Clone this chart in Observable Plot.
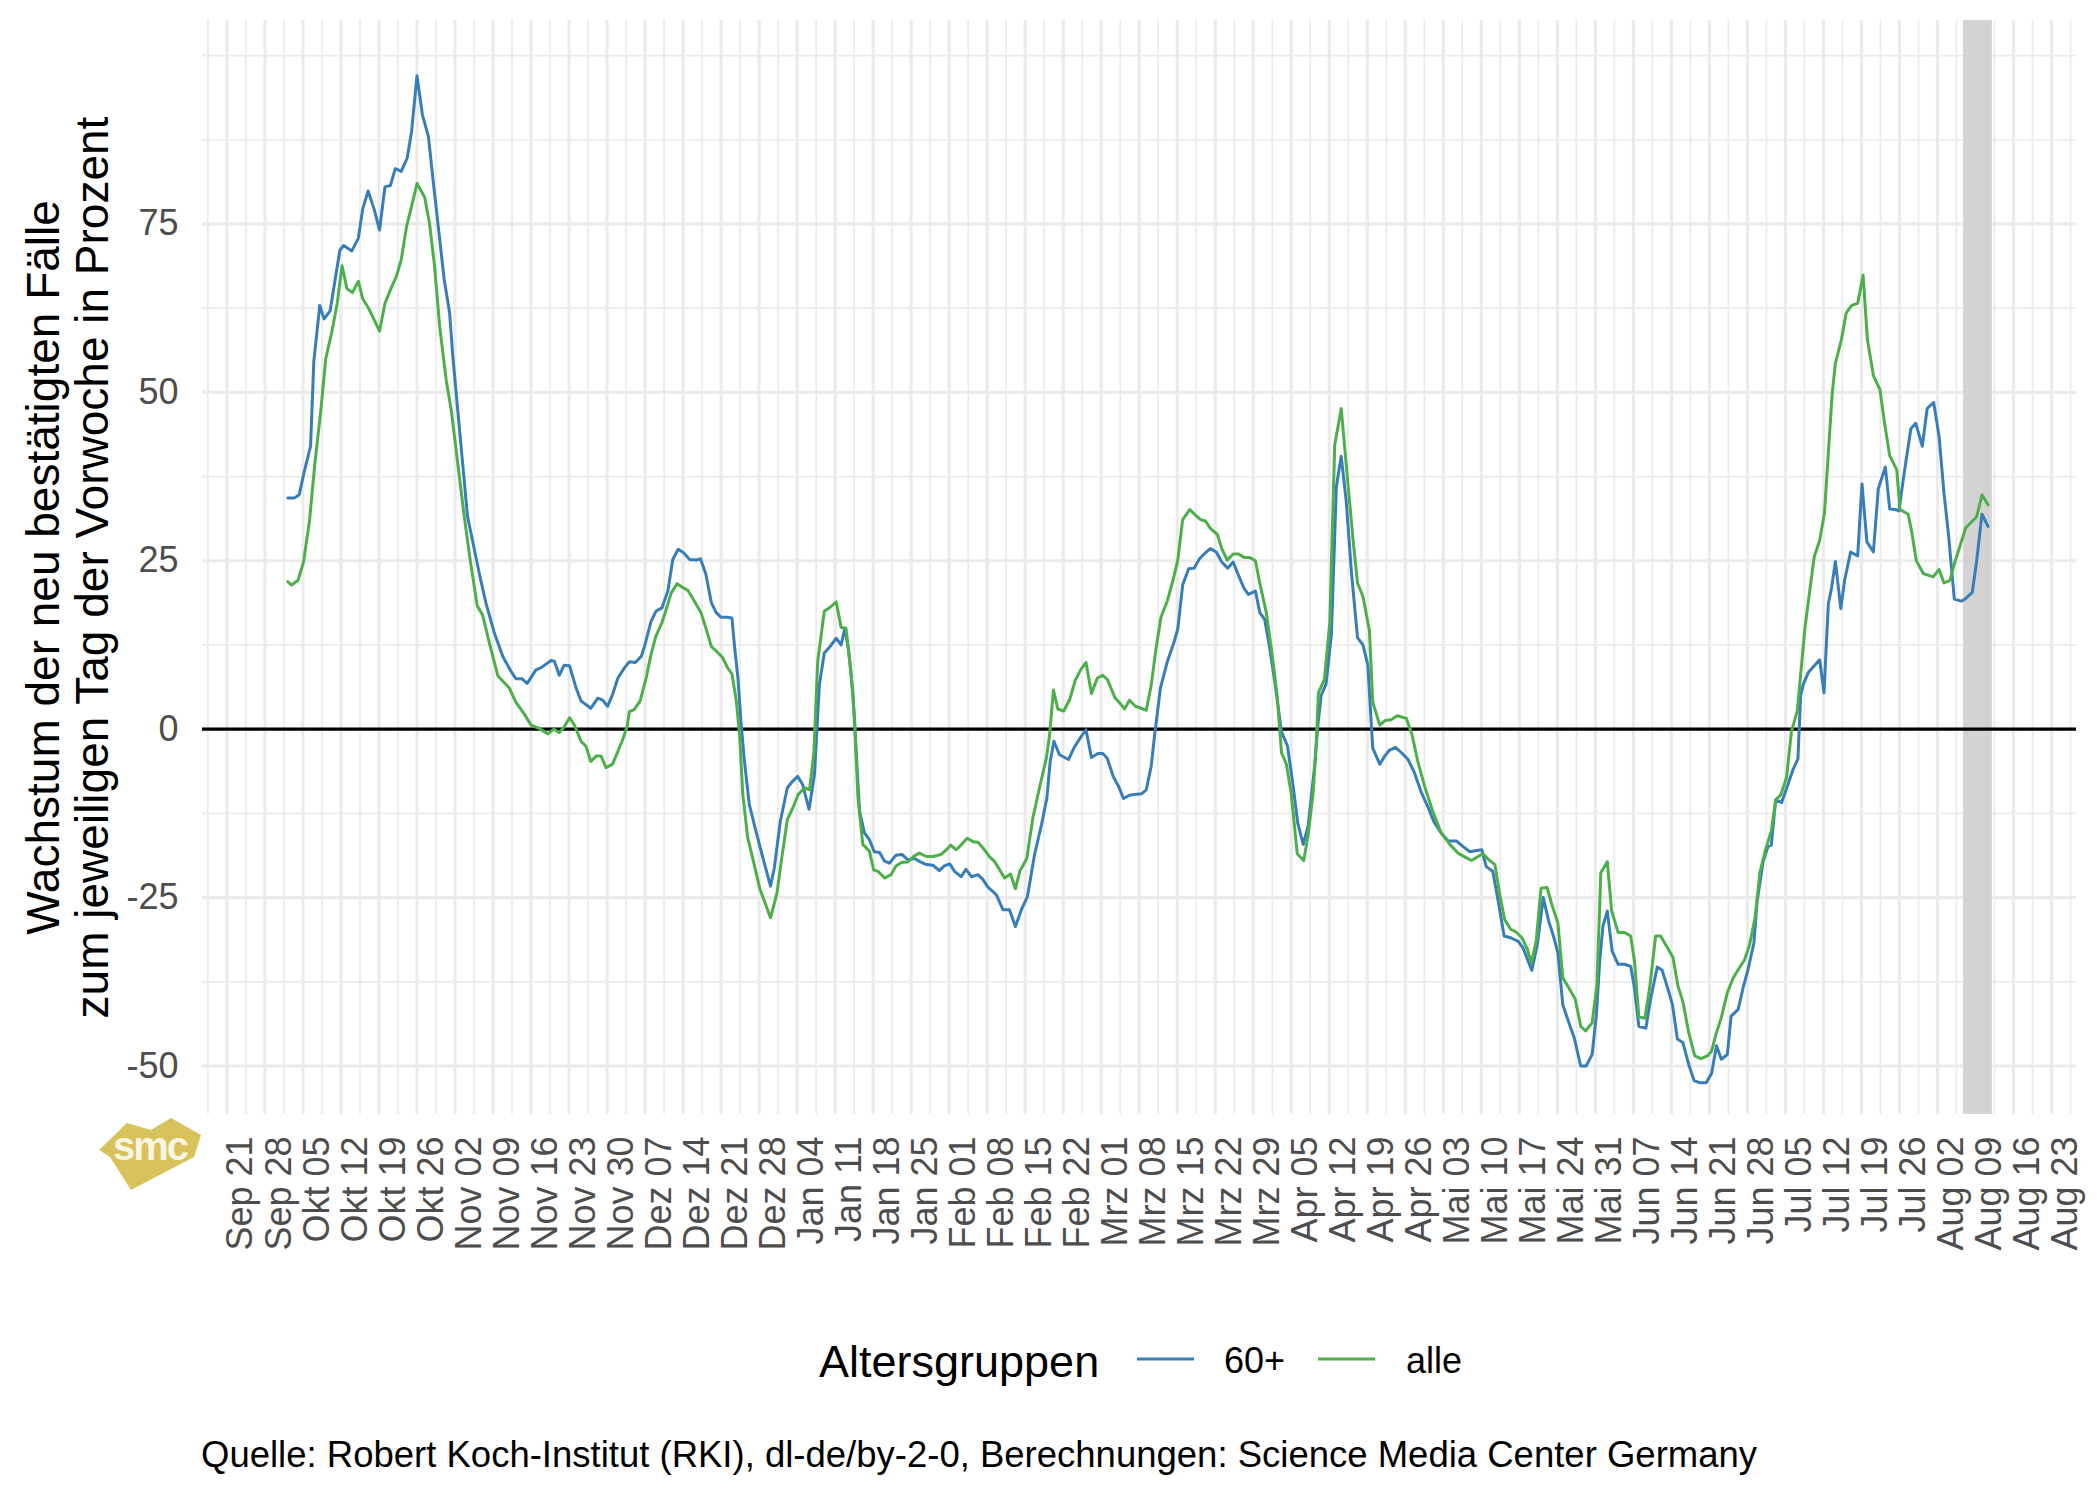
<!DOCTYPE html>
<html>
<head>
<meta charset="utf-8">
<script src="https://cdn.jsdelivr.net/npm/d3@7"></script>
<script src="https://cdn.jsdelivr.net/npm/@observablehq/plot@0.6"></script>
<style>
html, body { margin: 0; padding: 0; background: #fff; }
#wrap { position: relative; width: 2100px; height: 1499px; font-family: "Liberation Sans", Arial, sans-serif; overflow: hidden; }
#chart { position: absolute; left: 0; top: 0; }
#over { position: absolute; left: 0; top: 0; pointer-events: none; }
</style>
</head>
<body>
<div id="wrap">
  <div id="chart"></div>
  <svg id="over" width="2100" height="1499" font-family="Liberation Sans, Arial, sans-serif">
    <g id="logo">
      <polygon points="99,1150 127,1123 151,1130 171,1118 201,1135 194,1157 131,1190 110,1157" fill="#D8C25C"/>
      <text x="150" y="1160" text-anchor="middle" font-size="40" font-weight="bold" fill="#fff" fill-opacity="0.85" letter-spacing="-2">smc</text>
    </g>
    <g id="legend"></g>
    <text id="caption" x="201" y="1467" font-size="36.5" fill="#000"></text>
  </svg>
</div>
<script>
// ---------- data (days counted from 2020-09-21, values in percent) ----------
const baseDate = Date.UTC(2020, 8, 21);

const tickLabels = ["Sep 21","Sep 28","Okt 05","Okt 12","Okt 19","Okt 26","Nov 02","Nov 09","Nov 16","Nov 23","Nov 30",
  "Dez 07","Dez 14","Dez 21","Dez 28","Jan 04","Jan 11","Jan 18","Jan 25","Feb 01","Feb 08","Feb 15","Feb 22",
  "Mrz 01","Mrz 08","Mrz 15","Mrz 22","Mrz 29","Apr 05","Apr 12","Apr 19","Apr 26","Mai 03","Mai 10","Mai 17",
  "Mai 24","Mai 31","Jun 07","Jun 14","Jun 21","Jun 28","Jul 05","Jul 12","Jul 19","Jul 26","Aug 02","Aug 09",
  "Aug 16","Aug 23"];

const yTicks = [-50, -25, 0, 25, 50, 75];
const yTickLabels = ["-50", "-25", "0", "25", "50", "75"];
const yMinorLines = [-37.5, -12.5, 12.5, 37.5, 62.5, 87.5, 100];

const seriesNames = ["60+", "alle"];
const seriesColors = ["#377EB8", "#4DAF4A"];

const shadeDays = [319.8, 325.1];

const blueDays = [11.2,12.4,13.3,14.2,15.4,16.0,17.1,17.9,19.0,20.8,21.5,23.0,24.2,25.0,26.0,27.1,28.1,29.1,30.1,31.0,
  32.1,33.2,34.0,35.0,36.0,37.1,38.1,39.1,40.0,41.0,41.6,42.5,43.4,44.3,45.4,46.5,47.7,49.2,50.8,52.3,53.2,54.3,55.3,56.9,
  57.8,59.7,60.3,61.2,62.1,63.1,64.3,65.2,67.0,68.3,69.2,70.1,71.0,72.0,73.2,74.1,75.2,76.3,76.9,78.1,79.0,80.1,81.2,82.1,
  83.1,84.1,85.2,86.4,87.2,88.2,89.2,90.1,91.0,92.2,93.0,93.5,94.1,94.7,95.3,96.2,97.4,98.7,100.1,100.8,101.9,103.2,104.2,
  105.1,106.0,107.2,108.2,109.1,110.0,111.0,112.2,113.1,113.8,114.5,115.3,115.9,116.5,117.4,118.3,
  119.2,120.2,121.1,122.0,123.2,124.3,125.4,126.6,127.7,128.8,130.0,131.2,132.1,133.1,134.0,135.2,136.1,137.1,138.3,139.2,
  140.1,141.7,142.9,144.1,145.2,146.3,147.4,148.7,150.0,151.0,151.6,152.3,153.3,155.0,156.1,157.3,158.2,159.2,160.4,161.3,
  162.1,163.2,164.2,165.1,166.2,167.1,168.4,169.3,
  170.2,170.8,171.9,173.2,174.4,175.1,176.0,177.1,178.1,179.1,180.2,181.1,182.2,183.2,184.3,185.3,186.3,187.3,188.1,189.4,
  190.2,191.1,192.0,192.9,194.2,195.3,196.3,197.2,198.2,199.1,200.3,200.9,201.5,202.4,203.4,204.3,205.2,206.1,207.1,208.2,
  209.2,210.1,211.0,212.3,213.2,214.1,215.2,216.3,217.5,218.7,219.9,221.2,222.3,223.6,224.9,
  226.4,227.6,228.9,230.1,231.1,231.9,233.1,234.1,235.2,236.5,237.8,238.7,239.5,240.3,241.3,242.4,243.4,244.2,245.1,246.0,
  247.0,248.1,249.3,250.3,251.4,252.2,252.8,253.4,254.2,255.1,256.2,257.4,258.5,259.2,260.0,261.3,262.2,263.4,264.3,265.3,
  266.2,267.1,268.1,269.2,270.2,271.4,272.4,273.4,274.3,275.2,276.3,277.0,278.3,279.2,280.1,281.2,281.8,282.9,
  283.8,284.4,285.2,286.3,287.2,288.4,289.3,289.8,290.3,291.2,292.4,293.3,294.1,294.9,295.5,296.2,297.2,297.9,299.0,300.3,
  301.1,302.0,303.2,304.1,305.4,306.2,307.3,307.9,308.9,310.1,311.0,312.2,313.1,314.3,315.3,316.2,317.0,318.1,319.4,320.2,
  321.4,322.2,323.2,324.3];
const blueValues = [34.3,34.3,34.8,38.1,42.0,54.6,62.9,60.9,62.1,71.1,71.8,71.0,72.9,77.2,79.9,77.2,74.1,80.5,80.7,83.2,
  82.8,84.8,88.7,97.0,91.2,88.0,80.5,73.3,66.8,61.8,55.3,47.4,39.5,31.6,27.3,23.0,18.7,14.4,10.8,8.6,7.5,7.5,6.8,8.8,
  9.1,10.2,10.1,8.0,9.5,9.4,6.1,4.2,3.1,4.6,4.3,3.4,5.1,7.6,9.1,10.0,9.9,10.8,12.3,16.0,17.5,18.0,20.5,25.2,
  26.7,26.2,25.2,25.1,25.3,23.0,18.8,17.3,16.6,16.6,16.5,12.1,7.6,0.7,-4.8,-11.2,-15.1,-19.1,-23.3,-20.6,-13.7,-8.7,-7.7,
  -7.0,-8.2,-11.9,-6.7,6.6,11.3,12.2,13.5,12.5,15.0,11.6,5.1,-3.8,-12.2,-15.4,-16.4,
  -18.2,-18.3,-19.6,-19.9,-18.7,-18.6,-19.4,-19.2,-19.7,-20.1,-20.2,-21.0,-20.3,-20.0,-21.1,-21.9,-20.8,-21.9,-21.6,-22.3,
  -23.4,-24.6,-26.8,-26.8,-29.3,-26.8,-24.9,-18.7,-14.2,-10.2,-4.8,-1.8,-3.8,-4.5,-2.6,-1.1,-0.1,-4.2,-3.6,-3.6,
  -4.3,-7.0,-8.5,-10.3,-9.8,-9.7,-9.6,-9.0,
  -5.5,-1.1,6.1,10.1,12.9,14.9,21.4,23.8,23.9,25.3,26.2,26.8,26.3,24.8,23.9,24.8,22.8,20.9,20.0,20.5,
  17.3,16.3,12.2,7.4,-0.4,-2.5,-8.2,-14.0,-17.1,-14.4,-5.5,0.6,5.0,6.7,14.2,36.0,40.5,34.0,23.1,13.6,
  12.5,9.5,-2.8,-5.2,-4.0,-3.1,-2.7,-3.5,-4.5,-6.5,-9.3,-11.6,-13.8,-15.4,-16.6,
  -16.6,-17.4,-18.2,-18.0,-17.9,-20.4,-21.1,-25.5,-30.7,-31.0,-31.5,-32.5,-34.2,-35.8,-32.0,-25.0,-28.5,-30.5,-33.2,-40.9,
  -43.3,-45.8,-50.0,-50.0,-48.3,-42.3,-34.4,-29.2,-27.0,-33.0,-34.9,-34.9,-35.2,-38.4,-44.1,-44.4,-39.9,-35.3,-35.8,-38.4,
  -40.9,-46.0,-46.5,-49.8,-52.2,-52.5,-52.5,-51.1,-47.0,-49.0,-48.3,-42.6,-41.6,-38.4,-35.7,-31.7,-25.5,-19.6,
  -17.4,-17.2,-10.5,-10.9,-8.8,-6.0,-4.4,5.0,6.7,8.4,9.5,10.3,5.4,18.6,21.0,24.9,17.9,22.1,26.3,25.7,
  36.4,27.8,26.3,35.7,38.9,32.7,32.6,32.4,38.2,44.6,45.4,42.0,47.6,48.5,43.4,35.0,29.1,19.3,19.0,19.4,
  20.3,24.9,31.9,30.1];

const greenDays = [11.2,11.9,13.1,14.1,15.2,16.2,17.3,18.2,19.3,20.3,21.2,22.1,23.1,24.2,25.0,26.0,27.1,28.1,29.1,30.2,
  31.2,32.1,33.1,34.0,35.0,36.4,37.3,38.2,39.2,40.4,41.3,42.5,43.7,44.8,46.1,47.1,48.3,49.9,52.0,53.2,54.8,56.0,57.5,
  59.1,60.2,61.2,62.0,63.1,64.0,65.2,66.1,67.0,68.0,68.9,69.8,71.0,72.0,72.9,73.7,74.1,75.0,76.1,77.2,78.1,79.0,80.1,
  80.9,81.8,82.9,84.0,84.9,86.1,87.3,88.2,89.2,90.1,91.3,92.2,93.0,93.8,94.4,95.0,95.9,97.1,98.1,99.1,100.1,101.3,102.0,
  103.2,104.2,105.2,106.4,107.3,108.1,108.8,110.0,111.1,112.2,113.1,114.0,114.9,115.6,116.2,117.1,118.3,
  119.1,119.9,121.1,122.3,123.2,124.2,125.4,126.6,127.5,128.8,130.0,131.5,132.5,133.3,134.3,135.2,136.3,137.4,138.3,139.2,
  140.4,141.4,142.1,143.2,144.3,145.2,146.0,147.3,148.4,149.6,150.9,151.5,152.2,153.0,154.1,155.2,156.2,157.2,158.2,159.2,
  160.3,161.3,162.2,163.5,164.4,165.3,166.2,167.3,168.4,169.3,
  170.2,171.1,172.0,173.2,174.2,175.1,176.0,177.3,178.2,179.3,180.2,181.1,182.4,183.2,184.2,185.3,186.3,187.3,188.3,189.4,
  190.2,191.4,192.4,193.4,194.2,195.1,196.0,197.1,198.3,199.1,200.0,200.6,201.0,202.1,203.1,204.0,205.2,206.4,207.4,208.2,
  209.2,210.4,211.0,212.3,213.3,214.4,215.5,217.2,218.2,219.3,220.6,222.1,223.6,225.2,
  226.7,228.0,229.2,230.4,231.3,232.4,233.5,234.4,235.3,236.4,237.4,238.5,239.5,240.2,241.1,242.0,243.1,243.9,245.1,246.0,
  247.1,248.3,249.3,250.2,251.4,252.3,253.0,254.2,255.0,256.2,257.4,258.5,259.2,260.0,261.1,262.0,263.1,264.0,265.1,266.3,
  267.2,268.1,269.2,270.3,271.4,272.6,273.4,274.2,275.2,276.3,277.4,278.3,279.5,280.4,281.4,282.3,283.3,
  284.4,285.2,286.1,287.2,288.1,289.2,289.8,290.6,291.5,292.3,293.3,294.2,294.9,295.6,296.2,297.3,298.2,299.2,300.3,301.3,
  302.1,303.2,304.4,305.3,306.2,307.5,308.1,309.6,310.3,311.1,312.4,314.2,315.3,316.2,317.3,318.1,319.1,320.2,322.2,323.2,
  324.3];
const greenValues = [21.9,21.4,22.1,24.8,30.9,39.5,47.4,55.0,58.9,63.2,68.8,65.4,64.8,66.5,63.9,62.6,60.8,59.1,63.2,65.4,
  67.2,69.7,74.7,77.6,81.0,79.0,75.1,69.0,59.6,51.7,47.4,39.5,31.6,25.1,18.3,16.9,12.9,7.9,6.1,4.0,2.2,0.6,0.1,
  -0.7,0.0,-0.5,0.2,1.7,0.6,-1.8,-2.5,-4.8,-4.0,-4.0,-5.7,-5.2,-3.3,-1.5,0.4,2.6,2.9,4.2,7.6,11.1,13.8,15.8,
  17.8,20.2,21.6,21.0,20.6,19.0,17.3,15.0,12.3,11.6,10.6,9.1,8.2,4.2,-0.8,-9.7,-16.1,-20.1,-23.6,-25.8,-28.0,-24.3,-20.1,
  -13.4,-11.7,-9.7,-8.7,-9.0,-3.3,10.1,17.5,18.1,18.9,15.1,15.0,8.6,1.2,-10.2,-17.1,-18.1,
  -20.9,-21.1,-22.1,-21.6,-20.3,-19.8,-19.7,-18.8,-18.4,-18.9,-18.9,-18.6,-17.9,-17.2,-17.9,-17.2,-16.2,-16.7,-16.8,-17.6,
  -18.9,-19.7,-20.6,-22.1,-21.5,-23.7,-21.1,-19.2,-13.2,-8.8,-4.3,-0.8,5.8,3.0,2.7,4.4,7.2,8.8,9.9,5.3,
  7.6,8.0,7.3,4.7,3.9,3.0,4.3,3.4,3.1,2.8,
  6.5,12.0,16.6,19.1,22.1,25.1,31.1,32.6,31.9,31.1,30.9,29.8,28.9,26.8,25.1,26.0,26.0,25.5,25.5,25.0,
  21.7,17.3,11.5,5.0,-3.5,-5.2,-9.6,-18.5,-19.5,-15.7,-9.6,-2.1,5.4,7.4,15.9,42.2,47.6,36.7,27.9,21.7,
  19.7,14.6,4.0,0.6,1.3,1.4,2.0,1.6,-0.7,-4.8,-8.6,-12.3,-15.4,-17.1,
  -18.4,-19.0,-19.5,-18.9,-18.5,-19.4,-20.1,-24.6,-28.3,-29.7,-30.1,-31.0,-32.7,-34.7,-31.5,-23.6,-23.5,-25.8,-28.8,-36.9,
  -38.4,-40.1,-44.1,-44.8,-43.6,-37.9,-21.3,-19.7,-27.0,-30.2,-30.2,-30.7,-34.4,-42.7,-42.9,-38.4,-30.7,-30.7,-32.2,-33.9,
  -38.1,-40.4,-45.1,-48.5,-48.9,-48.5,-47.8,-45.3,-42.8,-39.1,-36.9,-35.7,-34.2,-32.0,-28.0,-21.3,-18.0,
  -15.1,-10.5,-9.8,-7.2,-0.4,2.8,8.1,15.1,20.7,25.6,28.0,32.2,41.0,49.7,54.3,57.8,61.8,62.9,63.2,67.4,
  57.8,52.5,50.4,45.2,40.6,38.5,32.6,31.9,29.1,25.0,23.1,22.6,23.7,21.7,22.1,24.5,27.1,29.9,31.5,34.8,
  33.3];

const yTitle = "Wachstum der neu bestätigten Fälle\nzum jeweiligen Tag der Vorwoche in Prozent";
const legendTitle = "Altersgruppen";
const captionText = "Quelle: Robert Koch-Institut (RKI), dl-de/by-2-0, Berechnungen: Science Media Center Germany";

// ---------- derived tables ----------
const DAY = 864e5;
const toDate = (d) => new Date(baseDate + d * DAY);
const xDomain = [toDate(-4.5), toDate(340.6)];
const yDomain = [-57.2, 105.2];

const majorX = tickLabels.map((label, i) => ({date: toDate(7 * i), label}));
const minorX = d3.range(tickLabels.length + 1).map((i) => toDate(7 * i - 3.5)).filter((d) => d >= xDomain[0] && d <= xDomain[1]);
const yLabelOf = new Map(yTicks.map((v, i) => [v, yTickLabels[i]]));

const blue = blueDays.map((d, i) => ({date: toDate(d), value: blueValues[i], group: seriesNames[0]}));
const green = greenDays.map((d, i) => ({date: toDate(d), value: greenValues[i], group: seriesNames[1]}));
const shade = [{start: toDate(shadeDays[0]), end: toDate(shadeDays[1])}];

const grid = "#EBEBEB";
const chart = Plot.plot({
  width: 2100,
  height: 1290,
  marginLeft: 202,
  marginRight: 24,
  marginTop: 20,
  marginBottom: 176,
  style: {fontFamily: "Liberation Sans, Arial, sans-serif", background: "white", overflow: "visible"},
  x: {type: "utc", domain: xDomain, axis: null},
  y: {domain: yDomain},
  marks: [
    Plot.ruleX(minorX, {stroke: grid, strokeWidth: 1.7}),
    Plot.ruleY(yMinorLines, {stroke: grid, strokeWidth: 1.7}),
    Plot.ruleX(majorX, {x: "date", stroke: grid, strokeWidth: 3.2}),
    Plot.ruleY(yTicks, {stroke: grid, strokeWidth: 3.2}),
    Plot.rect(shade, {x1: "start", x2: "end", y1: yDomain[0], y2: yDomain[1], fill: "#D3D3D3"}),
    Plot.ruleY([0], {stroke: "black", strokeWidth: 3.3}),
    Plot.line(blue, {x: "date", y: "value", stroke: seriesColors[0], strokeWidth: 3}),
    Plot.line(green, {x: "date", y: "value", stroke: seriesColors[1], strokeWidth: 3}),
    Plot.axisY(yTicks, {tickSize: 0, tickPadding: 24, fontSize: 36, color: "#4D4D4D", label: null,
      tickFormat: (v) => yLabelOf.get(v)}),
    Plot.text(majorX, {x: "date", text: "label", frameAnchor: "bottom", rotate: -90, textAnchor: "end",
      lineAnchor: "top", dy: 22, fontSize: 36, fill: "#4D4D4D"}),
    Plot.text([yTitle], {text: (d) => d, frameAnchor: "left", rotate: -90, dx: -95, textAnchor: "middle",
      lineAnchor: "bottom", lineHeight: 1.065, fontSize: 46, fill: "black"})
  ]
});
document.getElementById("chart").appendChild(chart);

// ---------- legend + caption ----------
const lg = d3.select("#legend");
lg.append("text").attr("x", 819).attr("y", 1377).attr("font-size", 45).attr("fill", "#000").text(legendTitle);
const keyX = [1137, 1318];
const labX = [1224, 1406];
seriesNames.forEach((name, i) => {
  lg.append("line").attr("x1", keyX[i]).attr("x2", keyX[i] + 57).attr("y1", 1359).attr("y2", 1359)
    .attr("stroke", seriesColors[i]).attr("stroke-width", 3);
  lg.append("text").attr("x", labX[i]).attr("y", 1373).attr("font-size", 36).attr("fill", "#000").text(name);
});
d3.select("#caption").text(captionText);
</script>
</body>
</html>
